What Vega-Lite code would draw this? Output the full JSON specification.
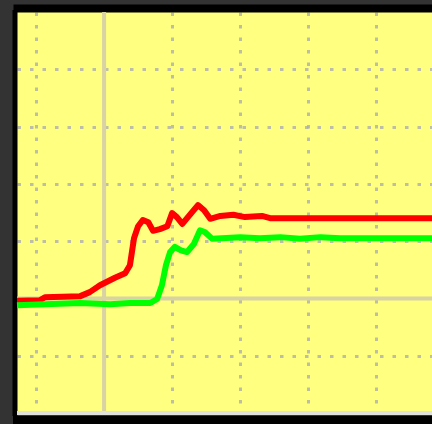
{
  "$schema": "https://vega.github.io/schema/vega-lite/v6.json",
  "width": 415,
  "height": 401,
  "autosize": {"type": "none"},
  "padding": {"left": 17, "top": 12, "right": 0, "bottom": 11},
  "background": "#333333",
  "config": {"view": {"fill": "#ffff80", "stroke": null}},
  "datasets": {
    "series": [
      {"series": "Series 1", "t": 7.2, "v": 19.6},
      {"series": "Series 1", "t": 10.6, "v": 19.7},
      {"series": "Series 1", "t": 11.3, "v": 20.2},
      {"series": "Series 1", "t": 16.5, "v": 20.4},
      {"series": "Series 1", "t": 17.9, "v": 21.1},
      {"series": "Series 1", "t": 19.4, "v": 22.3},
      {"series": "Series 1", "t": 21.6, "v": 23.6},
      {"series": "Series 1", "t": 23.1, "v": 24.4},
      {"series": "Series 1", "t": 23.8, "v": 25.8},
      {"series": "Series 1", "t": 24.4, "v": 30.5},
      {"series": "Series 1", "t": 25.0, "v": 32.6},
      {"series": "Series 1", "t": 25.7, "v": 33.7},
      {"series": "Series 1", "t": 26.5, "v": 33.3},
      {"series": "Series 1", "t": 27.2, "v": 31.8},
      {"series": "Series 1", "t": 28.2, "v": 32.1},
      {"series": "Series 1", "t": 29.3, "v": 32.6},
      {"series": "Series 1", "t": 30.0, "v": 34.9},
      {"series": "Series 1", "t": 30.7, "v": 34.2},
      {"series": "Series 1", "t": 31.5, "v": 33.0},
      {"series": "Series 1", "t": 32.6, "v": 34.6},
      {"series": "Series 1", "t": 33.8, "v": 36.3},
      {"series": "Series 1", "t": 34.7, "v": 35.4},
      {"series": "Series 1", "t": 35.6, "v": 33.9},
      {"series": "Series 1", "t": 37.1, "v": 34.4},
      {"series": "Series 1", "t": 39.0, "v": 34.6},
      {"series": "Series 1", "t": 40.7, "v": 34.2},
      {"series": "Series 1", "t": 43.2, "v": 34.4},
      {"series": "Series 1", "t": 44.4, "v": 34.0},
      {"series": "Series 1", "t": 48.8, "v": 34.0},
      {"series": "Series 1", "t": 56.2, "v": 34.0},
      {"series": "Series 1", "t": 68.2, "v": 34.0},
      {"series": "Series 2", "t": 7.2, "v": 18.8},
      {"series": "Series 2", "t": 11.3, "v": 19.0},
      {"series": "Series 2", "t": 16.5, "v": 19.2},
      {"series": "Series 2", "t": 20.9, "v": 19.0},
      {"series": "Series 2", "t": 23.8, "v": 19.2},
      {"series": "Series 2", "t": 26.8, "v": 19.2},
      {"series": "Series 2", "t": 27.8, "v": 19.9},
      {"series": "Series 2", "t": 28.5, "v": 22.3},
      {"series": "Series 2", "t": 29.1, "v": 25.8},
      {"series": "Series 2", "t": 29.7, "v": 28.1},
      {"series": "Series 2", "t": 30.4, "v": 29.0},
      {"series": "Series 2", "t": 31.3, "v": 28.4},
      {"series": "Series 2", "t": 32.2, "v": 28.1},
      {"series": "Series 2", "t": 33.2, "v": 29.5},
      {"series": "Series 2", "t": 34.1, "v": 31.9},
      {"series": "Series 2", "t": 34.8, "v": 31.6},
      {"series": "Series 2", "t": 35.9, "v": 30.4},
      {"series": "Series 2", "t": 37.3, "v": 30.5},
      {"series": "Series 2", "t": 40.0, "v": 30.7},
      {"series": "Series 2", "t": 42.9, "v": 30.5},
      {"series": "Series 2", "t": 45.9, "v": 30.7},
      {"series": "Series 2", "t": 48.8, "v": 30.4},
      {"series": "Series 2", "t": 51.8, "v": 30.7},
      {"series": "Series 2", "t": 54.7, "v": 30.5},
      {"series": "Series 2", "t": 57.6, "v": 30.5},
      {"series": "Series 2", "t": 60.6, "v": 30.5},
      {"series": "Series 2", "t": 63.5, "v": 30.5},
      {"series": "Series 2", "t": 68.2, "v": 30.5}
    ],
    "refs": [
      {"kind": "x", "t": 20},
      {"kind": "y", "v": 20},
      {"kind": "base", "v": 0}
    ]
  },
  "layer": [
    {
      "data": {"name": "refs"},
      "transform": [{"filter": "datum.kind === 'x'"}],
      "mark": {"type": "rule", "color": "#d8d2a4", "strokeWidth": 4},
      "encoding": {
        "x": {
          "field": "t", "type": "quantitative", "title": null,
          "scale": {"domain": [7.2, 68.2], "nice": false, "zero": false},
          "axis": {
            "orient": "top", "labels": false, "ticks": false, "title": null,
            "domain": true, "domainColor": "#000000", "domainWidth": 8, "domainCap": "square", "offset": 4,
            "grid": true, "gridColor": "#a8a8b4", "gridOpacity": 0.75, "gridDash": [3.5, 9], "gridWidth": 3,
            "values": [10, 20, 30, 40, 50, 60]
          }
        }
      }
    },
    {
      "data": {"name": "refs"},
      "transform": [{"filter": "datum.kind === 'y'"}],
      "mark": {"type": "rule", "color": "#d8d2a4", "strokeWidth": 4},
      "encoding": {
        "y": {
          "field": "v", "type": "quantitative", "title": null,
          "scale": {"domain": [0, 70], "nice": false, "zero": false},
          "axis": {
            "orient": "left", "labels": false, "ticks": false, "title": null,
            "domain": true, "domainColor": "#000000", "domainWidth": 5, "domainCap": "square", "offset": 2.5,
            "grid": true, "gridColor": "#a8a8b4", "gridOpacity": 0.75, "gridDash": [3.5, 9], "gridWidth": 3,
            "values": [10, 20, 30, 40, 50, 60]
          }
        }
      }
    },
    {
      "data": {"name": "refs"},
      "transform": [{"filter": "datum.kind === 'base'"}],
      "mark": {"type": "rule", "color": "#e2e2dc", "strokeWidth": 4},
      "encoding": {
        "y": {
          "field": "v", "type": "quantitative", "title": null,
          "scale": {"domain": [0, 70], "nice": false, "zero": false},
          "axis": {
            "orient": "left", "labels": false, "ticks": false, "title": null,
            "domain": true, "domainColor": "#000000", "domainWidth": 5, "domainCap": "square", "offset": 2.5,
            "grid": true, "gridColor": "#a8a8b4", "gridOpacity": 0.75, "gridDash": [3.5, 9], "gridWidth": 3,
            "values": [10, 20, 30, 40, 50, 60]
          }
        }
      }
    },
    {
      "data": {"name": "series"},
      "mark": {"type": "line", "strokeWidth": 6, "strokeJoin": "round", "strokeCap": "butt"},
      "encoding": {
        "x": {
          "field": "t", "type": "quantitative", "title": null,
          "scale": {"domain": [7.2, 68.2], "nice": false, "zero": false},
          "axis": {
            "orient": "bottom", "labels": false, "ticks": false, "title": null,
            "domain": true, "domainColor": "#000000", "domainWidth": 9, "domainCap": "square", "offset": 7,
            "grid": false
          }
        },
        "y": {
          "field": "v", "type": "quantitative", "title": null,
          "scale": {"domain": [0, 70], "nice": false, "zero": false},
          "axis": {
            "orient": "left", "labels": false, "ticks": false, "title": null,
            "domain": true, "domainColor": "#000000", "domainWidth": 5, "domainCap": "square", "offset": 2.5,
            "grid": true, "gridColor": "#a8a8b4", "gridOpacity": 0.75, "gridDash": [3.5, 9], "gridWidth": 3,
            "values": [10, 20, 30, 40, 50, 60]
          }
        },
        "color": {
          "field": "series", "type": "nominal", "legend": null,
          "scale": {"domain": ["Series 1", "Series 2"], "range": ["#ff0000", "#00ff00"]}
        }
      }
    }
  ],
  "resolve": {"axis": {"x": "independent"}}
}
